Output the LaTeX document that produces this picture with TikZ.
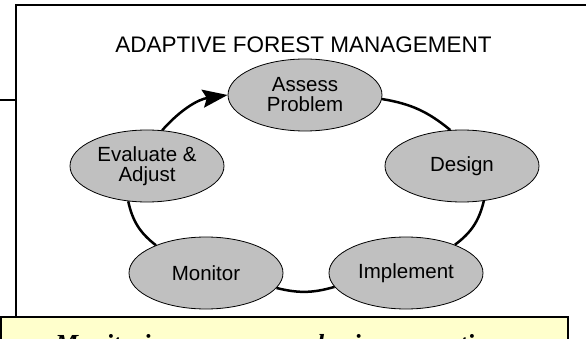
\documentclass[tikz,border=0pt]{standalone}
\usepackage{fontspec}
\setmainfont{Liberation Serif}
\setsansfont{Liberation Sans}
\usetikzlibrary{arrows.meta}
\usetikzlibrary{shapes.geometric}
\definecolor{stepfill}{HTML}{C0C0C0}
\definecolor{notefill}{HTML}{FFFFCC}

\begin{document}
\begin{tikzpicture}[x=1pt, y=-1pt]
	\useasboundingbox (0,0) rectangle (586,339);
	\clip (0,0) rectangle (586,339);

	% frame
	\draw[line width=1.5pt] (0,100) -- (16,100);
	\draw[line width=1.5pt] (587,5) -- (16,5) -- (16,318);
	\node[anchor=base, inner sep=0pt, font=\sffamily\fontsize{22.5}{24}\selectfont] (title) at (303.5,53) {ADAPTIVE FOREST MANAGEMENT};

	\begin{scope}[every node/.style={ellipse, draw, line width=0.8pt, fill=stepfill,
	              minimum width=154pt, minimum height=72pt, inner sep=0pt,
	              align=center, font=\sffamily\fontsize{20.5}{20}\selectfont}]
		\node (1) at (305,95) {Assess\\Problem};
		\node (2) at (462,166) {Design};
		\node (3) at (406,273) {Implement};
		\node (4) at (206,273) {Monitor};
		\node (5) at (147,166) {Evaluate \&\\Adjust};
	\end{scope}

	\begin{scope}[>={Stealth[black, length=25pt, width=18pt, inset=4pt]},
	              every edge/.style={draw=black, line width=2.5pt}]
		\path (5.67) edge[->, bend left=20] (1.west);
		\path (1.357) edge[bend left=15] (2.108);
		\path (2.-58) edge[bend left=20] (3.30);
		\path (3.191) edge[bend left=15] (4.-12);
		\path (4.151) edge[bend left=20] (5.242);
	\end{scope}

	% note box, only its top shows
	\draw[fill=notefill, line width=1.5pt] (0.75,317) rectangle (568,370);
	\node[anchor=base west, inner sep=0pt, font=\bfseries\itshape\fontsize{26}{28}\selectfont] (note) at (55,352.5) {Monitoring ensures our basic assumptions};
\end{tikzpicture}
\end{document}
